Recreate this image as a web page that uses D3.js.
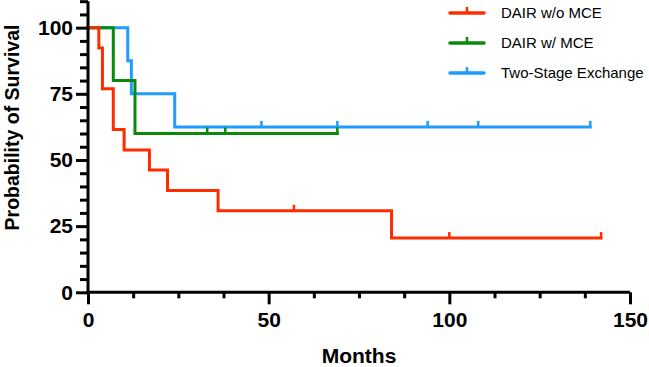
<!DOCTYPE html>
<html>
<head>
<meta charset="utf-8">
<script src="https://cdn.jsdelivr.net/npm/d3@7"></script>
<style>
  html, body { margin: 0; padding: 0; background: #fff; }
  svg { display: block; }
  text { font-family: Arial, "Liberation Sans", Helvetica, sans-serif; }
</style>
</head>
<body>
<svg id="chart" width="649" height="367"></svg>
<script>
// ---------- data ----------
const seriesNames = ["DAIR w/o MCE", "DAIR w/ MCE", "Two-Stage Exchange"];
const seriesColors = ["#FF2C00", "#0A8A0A", "#1E9CFF"];

const redTimes   = [0, 3, 4, 7, 10, 17, 22, 36, 84, 142];
const redSurv    = [100, 92.3, 76.9, 61.5, 53.8, 46.2, 38.5, 30.8, 20.5, 20.5];
const redCensor  = [57, 100, 142];

const greenTimes  = [0, 7, 13, 69];
const greenSurv   = [100, 80, 60, 60];
const greenCensor = [33, 38, 69];

const blueTimes  = [0, 11, 12, 24, 139];
const blueSurv   = [100, 87.5, 75, 62.5, 62.5];
const blueCensor = [48, 69, 94, 108, 139];

const xMajorTicks = [0, 50, 100, 150];
const xMinorTicks = [12.5, 25, 37.5, 62.5, 75, 87.5, 112.5, 125, 137.5];
const yMajorTicks = [0, 25, 50, 75, 100];
const yMinorTicks = [5, 10, 15, 20, 30, 35, 40, 45, 55, 60, 65, 70, 80, 85, 90, 95, 105, 110];

const xTitle = "Months";
const yTitle = "Probability of Survival";

// ---------- chart ----------
const svg = d3.select("#chart");
const x = d3.scaleLinear().domain([0, 150]).range([88, 630]);
const y = d3.scaleLinear().domain([0, 110]).range([292.3, 1.2]);

const series = [
  { name: seriesNames[0], color: seriesColors[0], t: redTimes, s: redSurv, c: redCensor },
  { name: seriesNames[1], color: seriesColors[1], t: greenTimes, s: greenSurv, c: greenCensor },
  { name: seriesNames[2], color: seriesColors[2], t: blueTimes, s: blueSurv, c: blueCensor }
];

// survival at time (step function)
function survAt(ser, time) {
  let v = ser.s[0];
  for (let i = 0; i < ser.t.length; i++) if (ser.t[i] <= time) v = ser.s[i];
  return v;
}

const line = d3.line().x(d => x(d[0])).y(d => y(d[1])).curve(d3.curveStepAfter);

// draw in reverse order so red is on top
series.slice().reverse().forEach(ser => {
  const pts = ser.t.map((t, i) => [t, ser.s[i]]);
  svg.append("path")
    .attr("d", line(pts))
    .attr("fill", "none")
    .attr("stroke", ser.color)
    .attr("stroke-width", 3)
    .attr("stroke-linejoin", "miter")
    .attr("stroke-linecap", "square");
  svg.selectAll(null).data(ser.c).enter().append("line")
    .attr("x1", d => x(d)).attr("x2", d => x(d))
    .attr("y1", d => y(survAt(ser, d)))
    .attr("y2", d => y(survAt(ser, d)) - 6)
    .attr("stroke", ser.color)
    .attr("stroke-width", 2.5);
});

// axes
const axisW = 3;
const gx = svg.append("g").attr("transform", `translate(0,${y(0)})`);
gx.call(d3.axisBottom(x).tickValues(xMajorTicks).tickSize(12).tickPadding(8).tickFormat(d3.format("d")));
gx.append("g").call(d3.axisBottom(x).tickValues(xMinorTicks).tickSize(6).tickFormat(""))
  .select(".domain").remove();

const gy = svg.append("g").attr("transform", `translate(${x(0)},0)`);
gy.call(d3.axisLeft(y).tickValues(yMajorTicks).tickSize(12).tickPadding(3).tickFormat(d3.format("d")));
gy.append("g").call(d3.axisLeft(y).tickValues(yMinorTicks).tickSize(8).tickFormat(""))
  .select(".domain").remove();

[gx, gy].forEach(g => {
  g.selectAll("path.domain").attr("stroke", "#000").attr("stroke-width", axisW);
  g.selectAll(".tick line").attr("stroke", "#000").attr("stroke-width", axisW);
  g.selectAll(".tick text")
    .attr("fill", "#000")
    .style("font-size", "21px")
    .style("font-weight", "bold");
});
// make domain path plain lines (no outer ticks)
gx.select("path.domain").attr("d", `M${x(0)},0H${x(150)}`);
gy.select("path.domain").attr("d", `M0,${y(0)}V${y(110)}`);

// axis titles
svg.append("text")
  .attr("x", (x(0) + x(150)) / 2)
  .attr("y", 362.5)
  .attr("text-anchor", "middle")
  .style("font-size", "21px")
  .style("font-weight", "bold")
  .text(xTitle);

svg.append("text")
  .attr("transform", `translate(18.5,127.5) rotate(-90)`)
  .attr("text-anchor", "middle")
  .style("font-size", "19.5px")
  .style("font-weight", "bold")
  .text(yTitle);

// legend
const leg = svg.append("g");
series.forEach((ser, i) => {
  const ly = 13 + i * 30;
  leg.append("line").attr("x1", 450).attr("x2", 484).attr("y1", ly).attr("y2", ly)
    .attr("stroke", ser.color).attr("stroke-width", 3.5).attr("stroke-linecap", "round");
  leg.append("line").attr("x1", 467).attr("x2", 467).attr("y1", ly).attr("y2", ly - 6)
    .attr("stroke", ser.color).attr("stroke-width", 2.5);
  leg.append("text").attr("x", 501).attr("y", ly).attr("dy", "0.36em")
    .style("font-size", "15px").attr("fill", "#000").text(ser.name);
});
</script>
</body>
</html>
